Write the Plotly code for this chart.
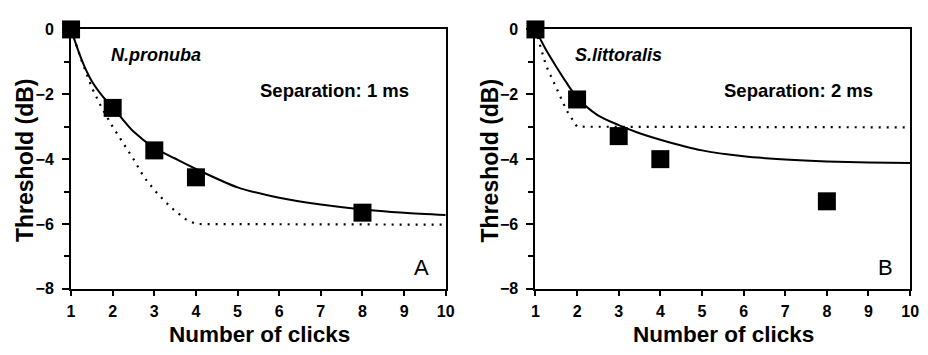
import plotly.graph_objects as go

# Measured thresholds (squares)
clicks_a = [1, 2, 3, 4, 8]
thresh_a = [0, -2.42, -3.73, -4.56, -5.65]
clicks_b = [1, 2, 3, 4, 8]
thresh_b = [0, -2.16, -3.29, -4.00, -5.30]

# Fitted curves (solid)
fit_x_a = [1, 1.25, 1.5, 1.75, 2, 2.5, 3, 3.5, 4, 5, 6, 7, 8, 9, 10]
fit_y_a = [0, -0.92, -1.6, -2.05, -2.4, -3.15, -3.65, -3.98, -4.3, -4.87, -5.19, -5.4, -5.55, -5.65, -5.72]
fit_x_b = [1, 1.25, 1.5, 1.75, 2, 2.5, 3, 3.5, 4, 5, 6, 7, 8, 9, 10]
fit_y_b = [0, -0.62, -1.15, -1.65, -2.1, -2.65, -2.95, -3.2, -3.4, -3.73, -3.91, -4.01, -4.07, -4.1, -4.12]

# Integration model (dotted)
model_x_a = [1, 1.25, 1.5, 1.75, 2, 2.25, 2.5, 2.75, 3, 3.25, 3.5, 3.75, 4, 10]
model_y_a = [0, -0.95, -1.8, -2.45, -3.0, -3.5, -4.0, -4.55, -4.95, -5.3, -5.6, -5.85, -6.0, -6.02]
model_x_b = [1, 1.25, 1.5, 1.75, 2, 10]
model_y_b = [0, -1.1, -1.8, -2.5, -3.0, -3.02]

x_ticks = list(range(1, 11))
y_ticks = [0, -2, -4, -6, -8]

species = ["N.pronuba", "S.littoralis"]
separations = ["Separation: 1 ms", "Separation: 2 ms"]
panel_labels = ["A", "B"]

FONT = "Liberation Sans, Arial, sans-serif"

fig = go.Figure()

panels = [
    ("x", "y", clicks_a, thresh_a, fit_x_a, fit_y_a, model_x_a, model_y_a),
    ("x2", "y2", clicks_b, thresh_b, fit_x_b, fit_y_b, model_x_b, model_y_b),
]

for xa, ya, cx, cy, fx, fy, mx, my in panels:
    fig.add_trace(go.Scatter(x=mx, y=my, xaxis=xa, yaxis=ya, mode="lines",
                             line=dict(color="black", width=2.2, dash="2px,6px"),
                             showlegend=False, hoverinfo="skip"))
    fig.add_trace(go.Scatter(x=fx, y=fy, xaxis=xa, yaxis=ya, mode="lines",
                             line=dict(color="black", width=2, shape="spline", smoothing=0.8),
                             showlegend=False, hoverinfo="skip"))
    fig.add_trace(go.Scatter(x=cx, y=cy, xaxis=xa, yaxis=ya, mode="markers",
                             marker=dict(symbol="square", size=18, color="black"),
                             cliponaxis=False, showlegend=False))

tick_font = dict(family=FONT, size=16, color="black", weight="bold")
x_common = dict(range=[1, 10], tickvals=x_ticks, ticks="outside", ticklen=5,
                tickwidth=1.5, tickcolor="black", showline=True, linecolor="black",
                linewidth=1.5, mirror=True, showgrid=False, zeroline=False,
                ticklabelstandoff=2, tickfont=tick_font)
y_common = dict(range=[-8, 0], tickvals=y_ticks, ticks="outside", ticklen=7,
                tickwidth=1.5, tickcolor="black", showline=True, linecolor="black",
                linewidth=2, mirror=True, showgrid=False, zeroline=False,
                ticklabelstandoff=5,
                minor=dict(dtick=1, ticks="outside", ticklen=5, tickwidth=1.5, tickcolor="black"),
                tickfont=tick_font)

ydom = [1 - 295 / 355, 1 - 22.5 / 355]
fig.update_layout(
    width=928, height=355,
    margin=dict(l=0, r=0, t=0, b=0),
    paper_bgcolor="white", plot_bgcolor="white",
    xaxis=dict(domain=[68 / 928, 448 / 928], anchor="y", **x_common),
    yaxis=dict(domain=ydom, anchor="x", **y_common),
    xaxis2=dict(domain=[539 / 928, 919 / 928], anchor="y2", **x_common),
    yaxis2=dict(domain=ydom, anchor="x2", **y_common),
)

annotations = []
for i, (xr, yr) in enumerate([("x", "y"), ("x2", "y2")]):
    annotations.append(dict(x=1.9, y=-0.8, xref=xr, yref=yr, text="<b><i>%s</i></b>" % species[i],
                            showarrow=False, xanchor="left", yanchor="middle",
                            font=dict(family=FONT, size=18, color="black")))
    annotations.append(dict(x=7.33, y=-1.88, xref=xr, yref=yr, text="<b>%s</b>" % separations[i],
                            showarrow=False, xanchor="center", yanchor="middle",
                            font=dict(family=FONT, size=18.5, color="black")))
    annotations.append(dict(x=9.41, y=-7.34, xref=xr, yref=yr, text=panel_labels[i],
                            showarrow=False, xanchor="center", yanchor="middle",
                            font=dict(family=FONT, size=22, color="black")))

# Axis titles
for cx_px in (22, 493):
    annotations.append(dict(x=cx_px / 928, y=1 - 160 / 355, xref="paper", yref="paper",
                            text="<b>Threshold (dB)</b>", textangle=-90, showarrow=False,
                            xanchor="center", yanchor="middle",
                            font=dict(family=FONT, size=23, color="black")))
for cx_px in (259, 730):
    annotations.append(dict(x=cx_px / 928, y=1 - 343 / 355, xref="paper", yref="paper",
                            text="<b>Number of clicks</b>", showarrow=False,
                            xanchor="center", yanchor="middle", borderpad=0,
                            font=dict(family=FONT, size=22.5, color="black")))

fig.update_layout(annotations=annotations)

fig.write_html("out.html")
